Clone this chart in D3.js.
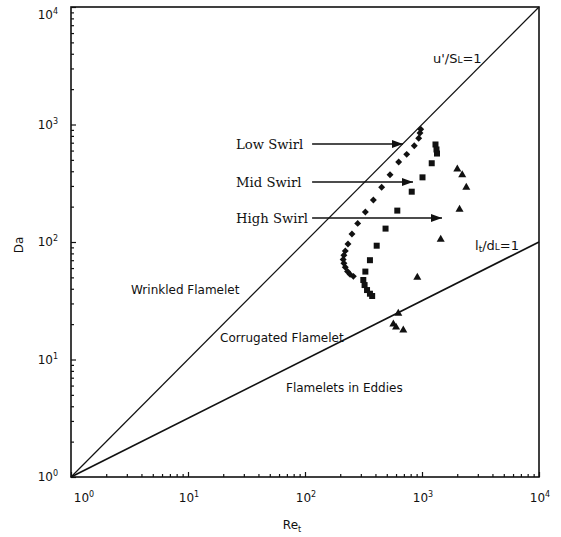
<!DOCTYPE html>
<html><head><meta charset="utf-8">
<script src="https://cdn.jsdelivr.net/npm/d3@7"></script>
<style>body{margin:0;background:#fff}svg{display:block}</style>
</head><body><svg id="c" width="561" height="537"></svg>
<script>
// ---- data ----
const tickExponents = [0, 1, 2, 3, 4];
const lowSwirlRe = [975, 961, 937, 859, 740, 632, 533, 452, 384, 328, 282, 252, 233, 221, 215, 212, 215, 221, 231, 243, 259];
const lowSwirlDa = [910, 847, 763, 660, 557, 480, 374, 292, 228, 180, 144, 117, 96, 84, 77, 71, 66, 61, 56, 53, 51];
const midSwirlRe = [1304, 1330, 1343, 1211, 1010, 817, 615, 488, 410, 359, 328, 315, 323, 339, 359, 375];
const midSwirlDa = [676, 613, 566, 468, 355, 268, 185, 130, 93, 70, 56, 47.5, 43, 39, 36.3, 34.7];
const highSwirlRe = [2004, 2207, 2392, 2093, 1445, 912, 627, 569, 600, 692];
const highSwirlDa = [416, 372, 292, 189, 105, 50, 24.7, 20.0, 18.8, 17.8];
// boundary lines: Da = Re (u'/SL = 1) and Da = Re^0.5 (lt/dL = 1)
const uSLineRe = [1, 10000], uSLineDa = [1, 10000];
const ltLineRe = [1, 10000], ltLineDa = [1, 100];
// annotations
const arrowLabels = ["Low Swirl", "Mid Swirl", "High Swirl"];
const arrowDa = [682, 324, 160];
const arrowFromRe = [115, 115, 115];
const arrowToRe = [688, 838, 1483];
const regionLabels = ["Wrinkled Flamelet", "Corrugated Flamelet", "Flamelets in Eddies"];
const regionRe = [3.26, 18.8, 68.8];
const regionDa = [39, 15.2, 5.72];

// ---- chart ----
const svg = d3.select("#c");
const x = d3.scaleLog().domain([1, 1e4]).range([71, 539]);
const y = d3.scaleLog().domain([1, 1e4]).range([477, 7]);
const majors = tickExponents.map(e => Math.pow(10, e));
const minors = [];
for (let e = 0; e < 4; e++) for (let m = 2; m <= 9; m++) minors.push(m * Math.pow(10, e));

const font = "'DejaVu Sans', sans-serif";

// axes (inward ticks)
const gx = svg.append("g").attr("transform", `translate(0,${y.range()[0]})`);
gx.call(d3.axisBottom(x).tickValues(minors).tickSize(-3).tickFormat("").tickSizeOuter(0));
gx.call(g => g.select(".domain").remove());
const gx2 = svg.append("g").attr("transform", `translate(0,${y.range()[0]})`);
gx2.call(d3.axisBottom(x).tickValues(majors).tickSize(-5).tickFormat("").tickSizeOuter(0));
gx2.call(g => g.select(".domain").remove());
const gy = svg.append("g").attr("transform", `translate(${x.range()[0]},0)`);
gy.call(d3.axisLeft(y).tickValues(minors).tickSize(-3).tickFormat("").tickSizeOuter(0));
gy.call(g => g.select(".domain").remove());
const gy2 = svg.append("g").attr("transform", `translate(${x.range()[0]},0)`);
gy2.call(d3.axisLeft(y).tickValues(majors).tickSize(-5).tickFormat("").tickSizeOuter(0));
gy2.call(g => g.select(".domain").remove());
svg.selectAll(".tick line").attr("stroke", "#111").attr("stroke-width", 1.2);

// frame
svg.append("rect")
  .attr("x", x.range()[0]).attr("y", y.range()[1])
  .attr("width", x.range()[1] - x.range()[0]).attr("height", y.range()[0] - y.range()[1])
  .attr("fill", "none").attr("stroke", "#111").attr("stroke-width", 1.6);

// tick labels
function powLabel(sel, e) {
  sel.append("tspan").text("10");
  sel.append("tspan").attr("font-size", 8).attr("dy", -5).text(e);
}
tickExponents.forEach(e => {
  const t = svg.append("text")
    .attr("x", x(Math.pow(10, e)) + (e === 0 ? 13 : 1))
    .attr("y", 502).attr("text-anchor", "middle")
    .attr("font-family", font).attr("font-size", 12).attr("fill", "#111");
  powLabel(t, e);
  const t2 = svg.append("text")
    .attr("x", 58).attr("y", y(Math.pow(10, e)) + (e === 4 ? 12 : 4))
    .attr("text-anchor", "end")
    .attr("font-family", font).attr("font-size", 12).attr("fill", "#111");
  powLabel(t2, e);
});

// axis titles
svg.append("text").attr("transform", "translate(23,245) rotate(-90)")
  .attr("text-anchor", "middle").attr("font-family", font).attr("font-size", 12).attr("fill", "#111")
  .text("Da");
const rt = svg.append("text").attr("x", 292).attr("y", 529).attr("text-anchor", "middle")
  .attr("font-family", font).attr("font-size", 12).attr("fill", "#111");
rt.append("tspan").text("Re");
rt.append("tspan").attr("font-size", 8).attr("dy", 3).text("t");

// boundary lines
const line = d3.line().x(d => x(d[0])).y(d => y(d[1]));
svg.append("path").datum(uSLineRe.map((r, i) => [r, uSLineDa[i]]))
  .attr("d", line).attr("fill", "none").attr("stroke", "#111").attr("stroke-width", 1.2);
svg.append("path").datum(ltLineRe.map((r, i) => [r, ltLineDa[i]]))
  .attr("d", line).attr("fill", "none").attr("stroke", "#111").attr("stroke-width", 1.7);

// line labels
const ul = svg.append("text").attr("x", x(1242)).attr("y", y(3680) + 5)
  .attr("font-family", font).attr("font-size", 13).attr("fill", "#111");
ul.append("tspan").text("u'/S");
ul.append("tspan").attr("font-size", 9).text("L");
ul.append("tspan").text("=1");
const ll = svg.append("text").attr("x", x(2838)).attr("y", y(94) + 5)
  .attr("font-family", font).attr("font-size", 13).attr("fill", "#111");
ll.append("tspan").text("l");
ll.append("tspan").attr("font-size", 9).attr("dy", 2).text("t");
ll.append("tspan").attr("dy", -2).text("/d");
ll.append("tspan").attr("font-size", 9).text("L");
ll.append("tspan").text("=1");

// region labels
regionLabels.forEach((t, i) => {
  svg.append("text").attr("x", x(regionRe[i])).attr("y", y(regionDa[i]) + 4)
    .attr("font-family", font).attr("font-size", 12).attr("fill", "#111").text(t);
});

// arrows
svg.append("defs").append("marker").attr("id", "ah")
  .attr("markerUnits", "userSpaceOnUse").attr("markerWidth", 12).attr("markerHeight", 10)
  .attr("refX", 11).attr("refY", 4).attr("orient", "auto")
  .append("path").attr("d", "M0,0 L11,4 L0,8 Z").attr("fill", "#111");
arrowLabels.forEach((t, i) => {
  svg.append("line").attr("x1", x(arrowFromRe[i])).attr("x2", x(arrowToRe[i]))
    .attr("y1", y(arrowDa[i])).attr("y2", y(arrowDa[i]))
    .attr("stroke", "#111").attr("stroke-width", 1.6).attr("marker-end", "url(#ah)");
  svg.append("text").attr("x", x(arrowFromRe[i]) - 76).attr("y", y(arrowDa[i]) + 5)
    .attr("font-family", "'DejaVu Serif', serif").attr("font-size", 13.2).attr("fill", "#111").text(t);
});

// markers
const pts = (re, da) => re.map((r, i) => [r, da[i]]);
svg.append("g").selectAll("path").data(pts(lowSwirlRe, lowSwirlDa)).join("path")
  .attr("d", d3.symbol(d3.symbolSquare, 24)())
  .attr("transform", d => `translate(${x(d[0])},${y(d[1])}) rotate(45)`).attr("fill", "#111");
svg.append("g").selectAll("path").data(pts(midSwirlRe, midSwirlDa)).join("path")
  .attr("d", d3.symbol(d3.symbolSquare, 36)())
  .attr("transform", d => `translate(${x(d[0])},${y(d[1])})`).attr("fill", "#111");
svg.append("g").selectAll("path").data(pts(highSwirlRe, highSwirlDa)).join("path")
  .attr("d", d3.symbol(d3.symbolTriangle, 28)())
  .attr("transform", d => `translate(${x(d[0])},${y(d[1])})`).attr("fill", "#111");
</script></body></html>
